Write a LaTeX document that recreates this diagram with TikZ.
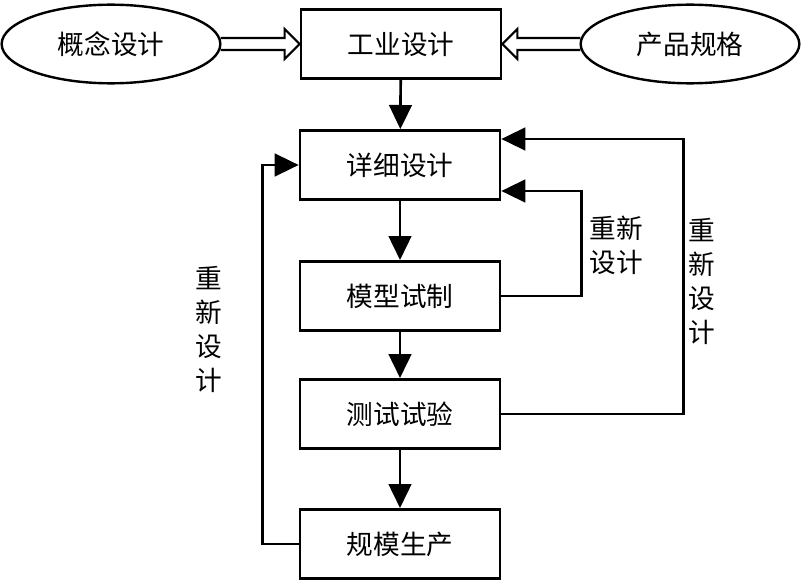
\documentclass[tikz,border=0pt]{standalone}
\usepackage{fontspec}
\newfontfamily\cjk{Noto Sans CJK SC}
\usetikzlibrary{shapes.geometric,arrows.meta,calc}

\begin{document}
\begin{tikzpicture}[x=0.75pt, y=-0.75pt,
    caja/.style={draw, line width=2pt, minimum width=150pt, minimum height=52pt, inner sep=0pt, font=\cjk\fontsize{20pt}{24pt}\selectfont},
    elipse/.style={draw, ellipse, line width=1.8pt, minimum width=164pt, minimum height=59pt, inner sep=0pt, font=\cjk\fontsize{20pt}{24pt}\selectfont},
    flecha/.style={line width=2pt, -{Triangle[length=18pt, width=17pt]}},
    hueca/.style={line width=1.6pt, line join=miter},
    rotulo/.style={align=center, inner sep=0pt, font=\cjk\fontsize{20pt}{25.5pt}\selectfont}]
  \useasboundingbox (0,0) rectangle (802,581);
  % Nodos
  \node[elipse] (gn) at (111,44) {概念设计};
  \node[caja] (gy) at (401,44) {工业设计};
  \node[elipse] (cp) at (690,44) {产品规格};
  \node[caja] (xx) at (400,165) {详细设计};
  \node[caja] (mx) at (400,296) {模型试制};
  \node[caja] (cs) at (400,414) {测试试验};
  \node[caja] (gm) at (400,544) {规模生产};
  \node[rotulo] (r1) at (616,245) {重新\\设计};
  \node[rotulo] (r2) at (702,281) {重\\新\\设\\计};
  \node[rotulo] (r3) at (209,329) {重\\新\\设\\计};

  % Flechas huecas
  \draw[hueca] ($(gn.east)+(-1,-6)$) -- ($(gy.west)+(-15,-6)$) -- ($(gy.west)+(-15,-15)$) -- (gy.west)
    -- ($(gy.west)+(-15,15)$) -- ($(gy.west)+(-15,6)$) -- ($(gn.east)+(-1,6)$);
  \draw[hueca] ($(cp.west)+(1,-6)$) -- ($(gy.east)+(15,-6)$) -- ($(gy.east)+(15,-15)$) -- (gy.east)
    -- ($(gy.east)+(15,15)$) -- ($(gy.east)+(15,6)$) -- ($(cp.west)+(1,6)$);

  % Aristas
  \draw[flecha] (gy) -- (xx);
  \draw[flecha] (xx) -- (mx);
  \draw[flecha] (mx) -- (cs);
  \draw[flecha] (cs) -- (gm);
  \draw[flecha] (mx.east) -- ++(80,0) |- ($(xx.south east)+(0,-10)$);
  \draw[flecha] (cs.east) -- ++(182,0) |- ($(xx.north east)+(0,10)$);
  \draw[flecha] (gm.west) -- ++(-36,0) |- (xx.west);
\end{tikzpicture}
\end{document}
